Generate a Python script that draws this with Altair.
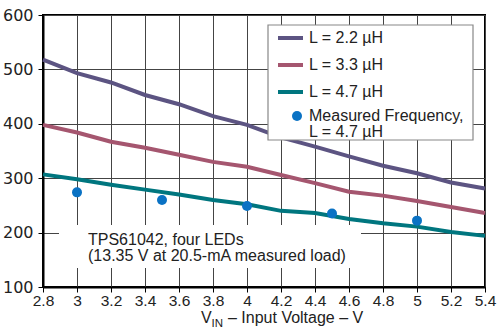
import altair as alt
import pandas as pd

vin = [2.8, 3.0, 3.2, 3.4, 3.6, 3.8, 4.0, 4.2, 4.4, 4.6, 4.8, 5.0, 5.2, 5.4]
freq_22 = [518, 493, 476, 453, 436, 414, 398, 375, 358, 340, 323, 309, 292, 281]
freq_33 = [398, 384, 367, 356, 343, 330, 321, 306, 291, 275, 268, 258, 247, 236]
freq_47 = [307, 298, 288, 279, 270, 260, 252, 240, 236, 225, 217, 211, 201, 194]

meas_vin = [3.0, 3.5, 4.0, 4.5, 5.0]
meas_freq = [274, 260, 249, 235, 222]

series_names = ["L = 2.2 µH", "L = 3.3 µH", "L = 4.7 µH"]
series_colors = ["#5c5482", "#a5566f", "#00767f"]
meas_color = "#0a72c4"

x_ticks = [2.8, 3.0, 3.2, 3.4, 3.6, 3.8, 4.0, 4.2, 4.4, 4.6, 4.8, 5.0, 5.2, 5.4]
y_ticks = [100, 200, 300, 400, 500, 600]

W, H = 442, 272
FONT = "Liberation Sans"

rows = []
for name, vals in zip(series_names, [freq_22, freq_33, freq_47]):
    for v, f in zip(vin, vals):
        rows.append({"vin": v, "freq": f, "series": name})
df = pd.DataFrame(rows)
meas_df = pd.DataFrame({"vin": meas_vin, "freq": meas_freq})

xs = alt.Scale(domain=[2.8, 5.4], nice=False, zero=False)
ys = alt.Scale(domain=[100, 600], nice=False, zero=False)

x_axis = alt.Axis(values=x_ticks, format="~g", title=None, labelFlush=False, labelOverlap=False)
y_axis = alt.Axis(values=y_ticks, title=None, labelOverlap=False)

def one(text):
    return pd.DataFrame({"t": [text]})

# annotation white box (covers grid lines)
ann_box = alt.Chart(one("")).mark_rect(fill="white").encode(
    x=alt.value(16), x2=alt.value(318), y=alt.value(210), y2=alt.value(253))

lines = alt.Chart(df).mark_line(strokeWidth=4).encode(
    x=alt.X("vin:Q", scale=xs, axis=x_axis),
    y=alt.Y("freq:Q", scale=ys, axis=y_axis),
    color=alt.Color("series:N", scale=alt.Scale(domain=series_names, range=series_colors), legend=None),
)

points = alt.Chart(meas_df).mark_point(filled=True, size=100, opacity=1, color=meas_color).encode(
    x=alt.X("vin:Q", scale=xs, axis=x_axis), y=alt.Y("freq:Q", scale=ys, axis=y_axis))

ann1 = alt.Chart(one("TPS61042, four LEDs")).mark_text(
    align="left", baseline="alphabetic", font=FONT, fontSize=16, color="#222").encode(
    x=alt.value(45), y=alt.value(230), text="t:N")
ann2 = alt.Chart(one("(13.35 V at 20.5-mA measured load)")).mark_text(
    align="left", baseline="alphabetic", font=FONT, fontSize=16, color="#222").encode(
    x=alt.value(45), y=alt.value(246), text="t:N")

# legend
leg_box = alt.Chart(one("")).mark_rect(fill="white", stroke="#888", strokeWidth=1.2).encode(
    x=alt.value(225), x2=alt.value(430), y=alt.value(10), y2=alt.value(125))
legend_layers = [leg_box]
for i, (name, col) in enumerate(zip(series_names, series_colors)):
    yy = 23 + 27 * i
    legend_layers.append(alt.Chart(one(name)).mark_rule(color=col, strokeWidth=4).encode(
        x=alt.value(235), x2=alt.value(260), y=alt.value(yy)))
    legend_layers.append(alt.Chart(one(name)).mark_text(
        align="left", baseline="middle", font=FONT, fontSize=16, color="#222").encode(
        x=alt.value(266), y=alt.value(yy), text="t:N"))
legend_layers.append(alt.Chart(one("")).mark_point(filled=True, size=100, opacity=1, color=meas_color).encode(
    x=alt.value(254), y=alt.value(101)))
legend_layers.append(alt.Chart(one("Measured Frequency,")).mark_text(
    align="left", baseline="middle", font=FONT, fontSize=16, color="#222").encode(
    x=alt.value(266), y=alt.value(101), text="t:N"))
legend_layers.append(alt.Chart(one("L = 4.7 µH")).mark_text(
    align="left", baseline="middle", font=FONT, fontSize=16, color="#222").encode(
    x=alt.value(266), y=alt.value(117), text="t:N"))

# x-axis title with subscript
t_v = alt.Chart(one("V")).mark_text(align="left", baseline="alphabetic", font=FONT, fontSize=16,
                                     color="#222").encode(x=alt.value(158), y=alt.value(308), text="t:N")
t_in = alt.Chart(one("IN")).mark_text(align="left", baseline="alphabetic", font=FONT, fontSize=11.5,
                                       color="#222").encode(x=alt.value(168.5), y=alt.value(311.5), text="t:N")
t_rest = alt.Chart(one("– Input Voltage – V")).mark_text(align="left", baseline="alphabetic", font=FONT,
                                                          fontSize=16, color="#222").encode(
    x=alt.value(185), y=alt.value(308), text="t:N")

chart = alt.layer(ann_box, lines, points, ann1, ann2, *legend_layers, t_v, t_in, t_rest).properties(
    width=W, height=H,
    autosize=alt.AutoSizeParams(type="none"),
    padding={"left": 43, "top": 15, "right": 16, "bottom": 49},
    background="white",
).configure_view(stroke="black", strokeWidth=2).configure_axis(
    domainColor="black", domainWidth=2, tickColor="black", tickSize=5,
    gridColor="#444", gridWidth=1, labelColor="#222", labelOverlap=False,
).configure_axisX(
    labelFont=FONT, labelFontSize=15.5, labelPadding=1, labelOverlap=False, labelFlush=False,
).configure_axisY(
    labelFont="DejaVu Sans", labelFontSize=16, labelPadding=5,
)

chart.save("out.html", embed_options={"renderer": "svg", "actions": False})
